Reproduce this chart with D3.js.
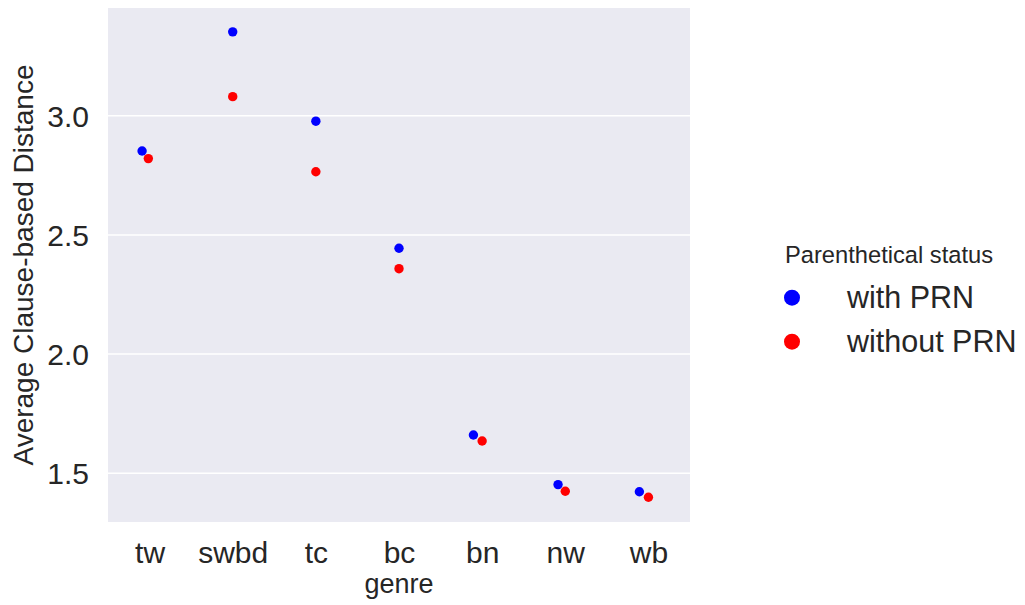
<!DOCTYPE html>
<html>
<head>
<meta charset="utf-8">
<script src="https://cdn.jsdelivr.net/npm/d3@7"></script>
<style>
    body { margin: 0; background: #fff; }
    svg { display: block; font-family: "Liberation Sans", Arial, sans-serif; }
    .axis text { fill: #262626; }
</style>
</head>
<body>
<svg id="chart" width="1025" height="605"></svg>
<script>
    "use strict";

    var genres = ["tw", "swbd", "tc", "bc", "bn", "nw", "wb"];
    var withPRN = [2.850, 3.350, 2.975, 2.442, 1.658, 1.450, 1.420];
    var withoutPRN = [2.818, 3.078, 2.763, 2.356, 1.633, 1.422, 1.397];
    // strip jitter, in category widths
    var withJitter = [-0.09, 0, 0, 0, -0.105, -0.087, -0.109];
    var withoutJitter = [-0.015, 0, 0, 0, 0, 0, 0];
    var yTicks = [1.5, 2.0, 2.5, 3.0];
    var seriesNames = ["with PRN", "without PRN"];
    var seriesColors = ["#0000ff", "#ff0000"];

    var svg = d3.select("#chart");
    var margin = {top: 8, right: 335, bottom: 83, left: 108};
    var width = +svg.attr("width") - margin.left - margin.right;
    var height = +svg.attr("height") - margin.top - margin.bottom;

    var x = d3.scalePoint().domain(genres).range([0, width]).padding(0.5);
    var y = d3.scaleLinear().domain([1.293, 3.450]).range([height, 0]);

    var g = svg.append("g")
        .attr("transform", "translate(" + margin.left + "," + margin.top + ")");

    g.append("rect")
        .attr("width", width)
        .attr("height", height)
        .attr("fill", "#eaeaf2");

    //white horizontal grid
    g.append("g")
        .call(d3.axisLeft(y).tickValues(yTicks).tickSize(-width).tickFormat(""))
        .call(function (s) {
            s.select(".domain").remove();
            s.selectAll("line").attr("stroke", "#fff").attr("stroke-width", 1.5);
        });

    g.append("g")
        .attr("class", "axis")
        .call(d3.axisLeft(y).tickValues(yTicks).tickSize(0).tickPadding(19)
            .tickFormat(d3.format(".1f")))
        .call(function (s) {
            s.select(".domain").remove();
            s.selectAll("text").attr("font-size", 30).attr("font-family", null)
                .attr("dy", "0.36em");
        });

    g.append("g")
        .attr("class", "axis")
        .attr("transform", "translate(0," + height + ")")
        .call(d3.axisBottom(x).tickSize(0).tickPadding(20))
        .call(function (s) {
            s.select(".domain").remove();
            s.selectAll("text").attr("font-size", 30).attr("font-family", null);
        });

    g.append("text")
        .attr("x", width / 2)
        .attr("y", height + 71)
        .attr("text-anchor", "middle")
        .attr("font-size", 27)
        .attr("fill", "#262626")
        .text("genre");

    svg.append("text")
        .attr("transform", "translate(33," + (margin.top + height / 2) + ") rotate(-90)")
        .attr("text-anchor", "middle")
        .attr("font-size", 28)
        .attr("fill", "#262626")
        .text("Average Clause-based Distance");

    var step = x.step();
    [[withPRN, withJitter], [withoutPRN, withoutJitter]].forEach(function (sr, si) {
        g.append("g").selectAll("circle")
            .data(genres)
            .join("circle")
            .attr("cx", function (d, i) { return x(d) + sr[1][i] * step; })
            .attr("cy", function (d, i) { return y(sr[0][i]); })
            .attr("r", 4.7)
            .attr("fill", seriesColors[si]);
    });

    //legend
    var leg = svg.append("g").attr("transform", "translate(785,0)");
    leg.append("text")
        .attr("x", 0)
        .attr("y", 263)
        .attr("font-size", 23.7)
        .attr("fill", "#262626")
        .text("Parenthetical status");
    seriesNames.forEach(function (name, i) {
        var cy = 297.7 + i * 44;
        leg.append("circle")
            .attr("cx", 7)
            .attr("cy", cy)
            .attr("r", 8)
            .attr("fill", seriesColors[i]);
        leg.append("text")
            .attr("x", 62)
            .attr("y", cy + 10)
            .attr("font-size", 30.5)
            .attr("fill", "#262626")
            .text(name);
    });
</script>
</body>
</html>
